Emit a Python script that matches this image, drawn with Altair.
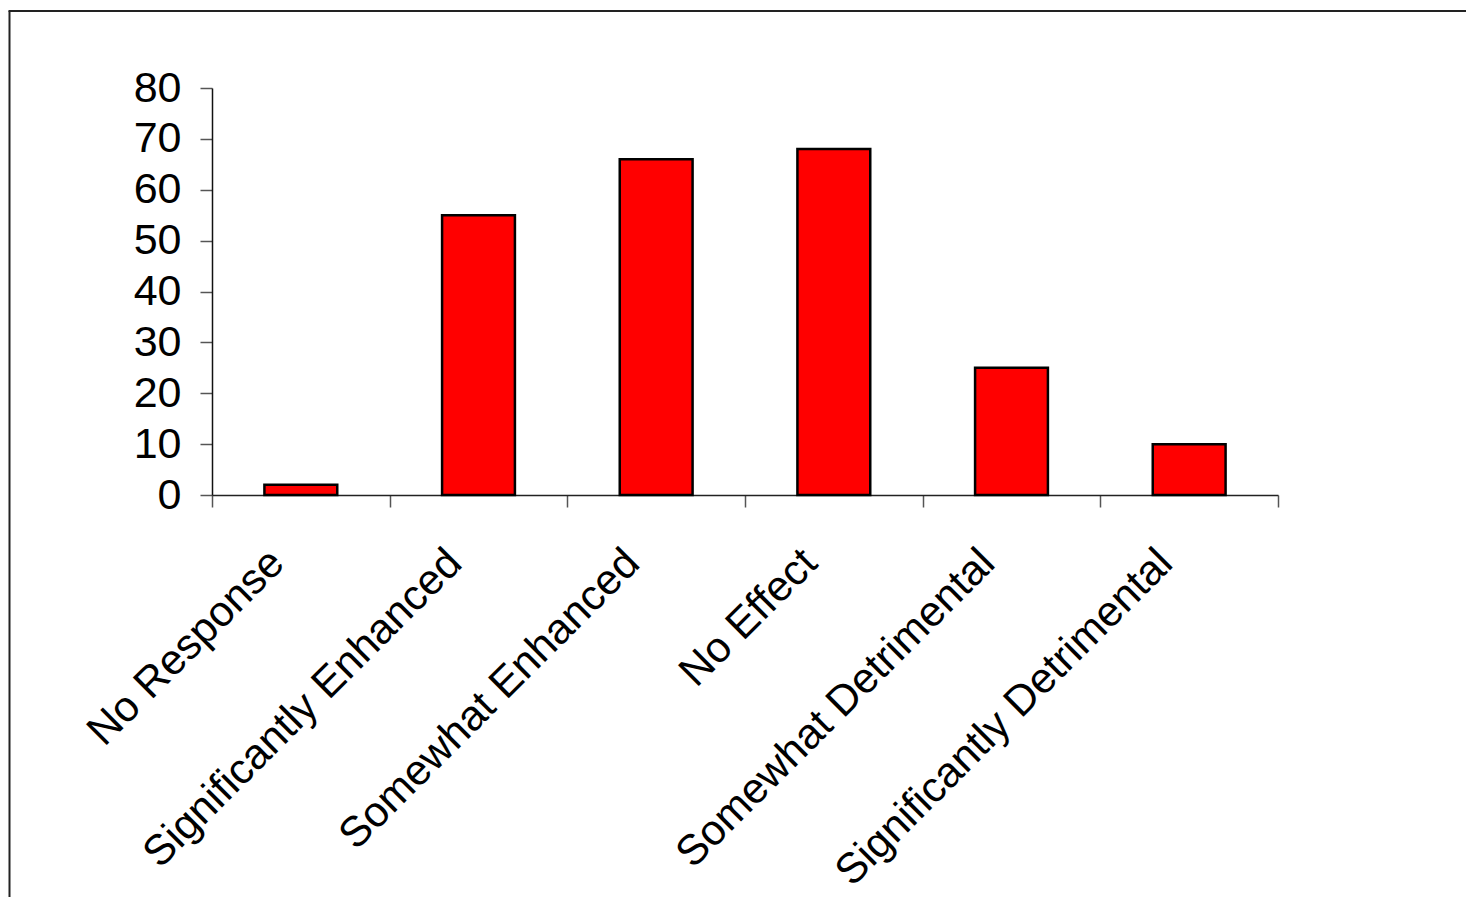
import altair as alt
import pandas as pd

# Survey responses per category
categories = [
    "No Response",
    "Significantly Enhanced",
    "Somewhat Enhanced",
    "No Effect",
    "Somewhat Detrimental",
    "Significantly Detrimental",
]
counts = [2, 55, 66, 68, 25, 10]

df = pd.DataFrame({"category": categories, "count": counts})

FONT = "Liberation Sans"

bars = (
    alt.Chart(df)
    .mark_bar(
        color="#FF0000",
        stroke="black",
        strokeWidth=2.5,
        strokeJoin="miter",
        width=alt.RelativeBandSize(0.41),
    )
    .encode(
        x=alt.X(
            "category:N",
            sort=categories,
            title=None,
            scale=alt.Scale(paddingInner=0, paddingOuter=0),
            axis=alt.Axis(
                tickBand="extent",
                tickSize=12,
                tickColor="#555555",
                tickWidth=1.5,
                domainColor="#222222",
                domainWidth=1.5,
                labelAngle=-45,
                labelAlign="right",
                labelBaseline="alphabetic",
                labelPadding=58,
                labelOffset=-15,
                labelFont=FONT,
                labelFontSize=42.5,
                labelColor="black",
                labelLimit=1000,
                labelOverlap=False,
            ),
        ),
        y=alt.Y(
            "count:Q",
            title=None,
            scale=alt.Scale(domain=[0, 80], nice=False),
            axis=alt.Axis(
                values=[0, 10, 20, 30, 40, 50, 60, 70, 80],
                tickSize=12,
                tickColor="#555555",
                tickWidth=1.5,
                domainColor="#111111",
                domainWidth=1.5,
                labelPadding=19,
                labelFont=FONT,
                labelFontSize=43,
                labelColor="black",
                grid=False,
            ),
        ),
    )
)

# Outer frame lines (left and top edges of the chart box)
frame_data = alt.Data(values=[{}])
frame_left = alt.Chart(frame_data).mark_rule(color="#222222", strokeWidth=2).encode(
    x=alt.value(-202.5), y=alt.value(-77), y2=alt.value(830)
)
frame_top = alt.Chart(frame_data).mark_rule(color="#222222", strokeWidth=2).encode(
    x=alt.value(-203.5), x2=alt.value(1270), y=alt.value(-77)
)

chart = (
    alt.layer(bars, frame_left, frame_top)
    .properties(
        width=1066,
        height=407,
        autosize=alt.AutoSizeParams(type="none"),
        padding={"left": 212, "top": 88, "right": 188, "bottom": 402},
        background="white",
    )
    .configure_view(stroke=None)
)

chart.save("out.html", embed_options={"renderer": "svg", "actions": False})
